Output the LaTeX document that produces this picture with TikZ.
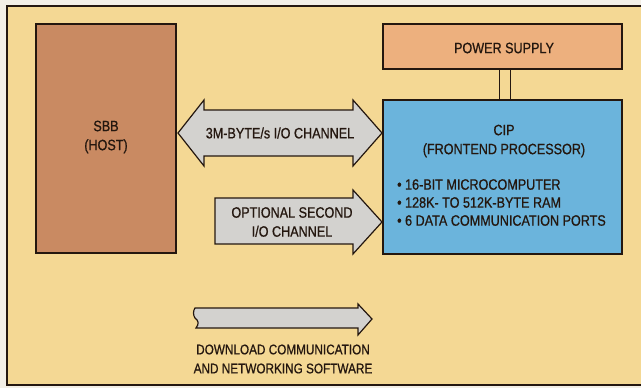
\documentclass[tikz,border=0pt]{standalone}
\usepackage{fontspec}
\setmainfont{Liberation Sans}[FakeStretch=0.84,FakeBold=0.8]
\usetikzlibrary{calc}
\definecolor{paper}{HTML}{F3EFE6}
\definecolor{bg}{HTML}{F4D894}
\definecolor{sbbc}{HTML}{C98A62}
\definecolor{psc}{HTML}{EDB07E}
\definecolor{cipc}{HTML}{6BB4DC}
\definecolor{arr}{HTML}{D3D2CF}
\definecolor{ink}{HTML}{24170F}
\begin{document}
\begin{tikzpicture}[x=1pt,y=-1pt,
  box/.style={draw=ink, line width=2pt, rectangle, inner sep=0pt},
  arrowshape/.style={draw=ink, line width=1.2pt, fill=arr, line join=miter},
  lbl/.style={text=ink, font=\fontsize{15}{19}\selectfont, align=center, inner sep=0pt},
  lbll/.style={text=ink, font=\fontsize{15}{18}\selectfont, align=left, inner sep=0pt, anchor=north west}]
\useasboundingbox (0,0) rectangle (641,388);
\fill[paper] (0,0) rectangle (641,388);
\fill[bg] (7,6) rectangle (641,385);
\draw[ink, line width=2pt] (641,6) -- (7,6) -- (7,385) -- (641,385);
% boxes
\node[box, fill=sbbc, minimum width=140pt, minimum height=229pt] (sbb) at (106,138.5) {};
\node[box, fill=psc, minimum width=239pt, minimum height=45pt] (ps) at (502.5,46.5) {};
\node[box, fill=cipc, minimum width=239pt, minimum height=154pt] (cip) at (502.5,177) {};
% power connector
\draw[ink, line width=1pt] ([xshift=-3.5pt]ps.south) -- ([xshift=-3.5pt]cip.north);
\draw[ink, line width=1pt] ([xshift=7.5pt]ps.south) -- ([xshift=7.5pt]cip.north);
% arrows
\draw[arrowshape] (178,133) -- (204,100) -- (204,110) -- (353,110) -- (353,100) -- (382,133) -- (353,166) -- (353,156) -- (204,156) -- (204,166) -- cycle;
\draw[arrowshape] (215,198) -- (353,198) -- (353,190) -- (382,222) -- (353,254) -- (353,244) -- (215,244) -- cycle;
\draw[arrowshape] (195,308) -- (358,308) -- (358,304) -- (372,319) -- (358,335) -- (358,328) -- (196,328)
  .. controls (199,324) and (199,321) .. (195,318) .. controls (193,315) and (193,311) .. (195,308) -- cycle;
% texts
\node[lbl] (sbbt) at (106,137) {SBB\\(HOST)};
\node[lbl] (ch1) at (280,133) {3M-BYTE/s I/O CHANNEL};
\node[lbl] (ch2) at (292,222) {OPTIONAL SECOND\\I/O CHANNEL};
\node[lbl] (pst) at (504,48) {POWER SUPPLY};
\node[lbl] (cipt) at (504,141) {CIP\\(FRONTEND PROCESSOR)};
\node[lbll] (feat) at (397,179) {• 16-BIT MICROCOMPUTER\\• 128K- TO 512K-BYTE RAM\\• 6 DATA COMMUNICATION PORTS};
\node[lbl, font=\fontsize{14}{19}\selectfont] (dl) at (283,359) {DOWNLOAD COMMUNICATION\\AND NETWORKING SOFTWARE};
\end{tikzpicture}
\end{document}
